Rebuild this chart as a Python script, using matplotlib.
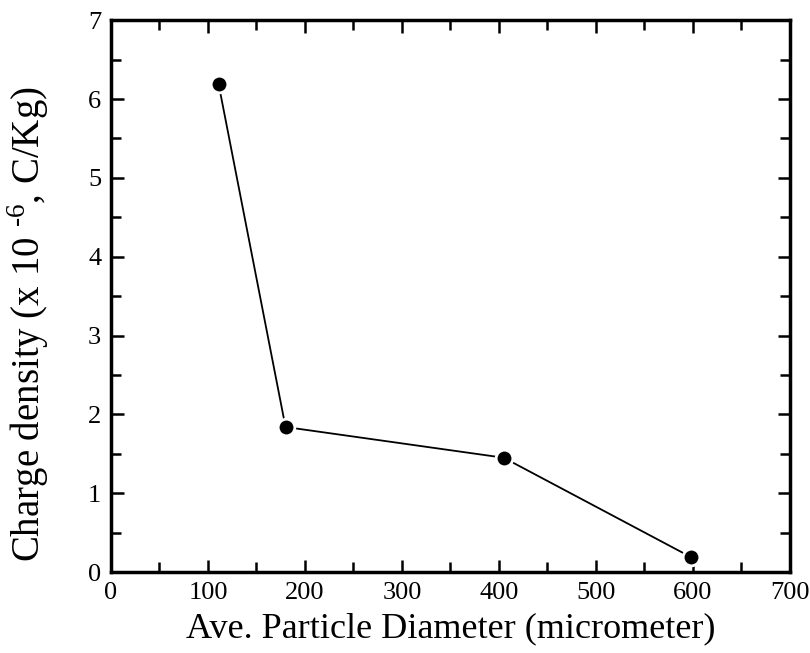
import matplotlib
matplotlib.use("Agg")
import matplotlib.pyplot as plt
from matplotlib.ticker import MultipleLocator

plt.rcParams['font.family'] = ['Liberation Serif', 'DejaVu Serif']
plt.rcParams['mathtext.fontset'] = 'custom'
plt.rcParams['mathtext.rm'] = 'Liberation Serif'

diameter = [111, 180, 405, 598]
charge = [6.19, 1.84, 1.45, 0.19]

fig = plt.figure(figsize=(8.1, 6.53), dpi=100)
ax = fig.add_axes([0.137, 0.124, 0.838, 0.845])

ax.plot(diameter, charge, color='black', linewidth=1.3, marker='o', markersize=12,
        markerfacecolor='black', markeredgecolor='white', markeredgewidth=2.0, zorder=3)

ax.set_xlim(0, 700)
ax.set_ylim(0, 7)
ax.xaxis.set_major_locator(MultipleLocator(100))
ax.xaxis.set_minor_locator(MultipleLocator(50))
ax.yaxis.set_major_locator(MultipleLocator(1))
ax.yaxis.set_minor_locator(MultipleLocator(0.5))
ax.tick_params(which='both', direction='in', top=True, right=True, width=1.8, colors='black')
ax.tick_params(which='major', length=9, labelsize=19, pad=7)
ax.tick_params(which='minor', length=7)
for s in ax.spines.values():
    s.set_linewidth(2.5)

ax.set_xlabel('Ave. Particle Diameter (micrometer)', fontsize=26, labelpad=6)
ax.set_ylabel('Charge density (x 10 $^{\\mathregular{\\text{-}6}}$, C/Kg)', fontsize=28)
ax.yaxis.set_label_coords(-0.088, 0.45)

fig.savefig('out.png', dpi=100)
